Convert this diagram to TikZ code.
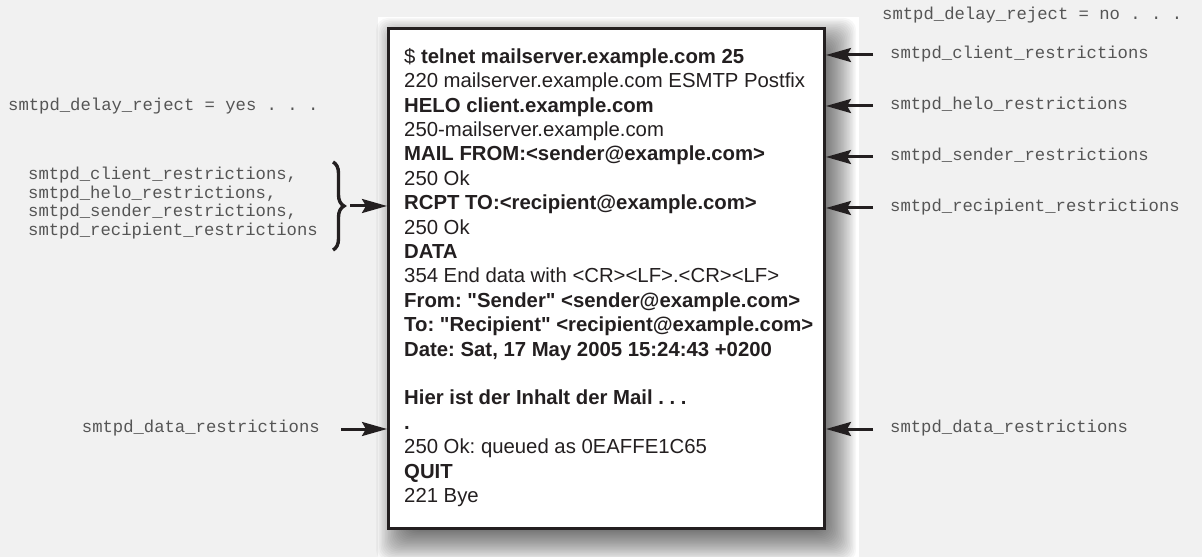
\documentclass[tikz,border=0pt]{standalone}
\usepackage{fontspec}
\setmonofont{Liberation Mono}
\newfontfamily\sessionfont{Liberation Sans}
\usetikzlibrary{arrows.meta,decorations.pathreplacing}
\definecolor{ink}{HTML}{231F20}
\definecolor{paper}{HTML}{F1F1F1}
\definecolor{cfg}{HTML}{555555}
\tikzset{
  line/.style={anchor=base west, inner sep=0pt, text=ink,
    font=\sessionfont\frenchspacing\fontsize{20.4}{24.4}\selectfont},
  opt/.style={inner sep=0pt, text height=7bp, text depth=0pt, text=cfg,
    font=\ttfamily\fontsize{17.3}{18.6}\selectfont},
  arr/.style={draw=ink, line width=3bp,
    -{Stealth[length=25bp, width=14bp, inset=4bp]}},
  session/.style={draw=ink, fill=white, line width=3bp, inner sep=0pt,
    minimum width=436bp, minimum height=500bp},
  softshade/.style={fill=black, fill opacity=0.03, rounded corners=12bp}
}
\begin{document}
\begin{tikzpicture}[x=1bp, y=-1bp]
% page and the white column behind the session
\fill[paper] (0,0) rectangle (1202,557);
\useasboundingbox (0,0) rectangle (1202,557);
\fill[white] (378,17) rectangle (859,557);

% soft drop shadow under the session box: stacked translucent layers
\foreach \i in {0,...,27}{
  \pgfmathsetmacro{\d}{-20+\i*1.5}
  \fill[softshade] (396+\d,38+\d) rectangle (836-\d,542-\d);
}

% SMTP session box
\node[session] (box) at (606.5,278.5) {};

\node[line] (l1)  at (404,63.3)  {\$ \textbf{telnet mailserver.example.com 25}};
\node[line] (l2)  at (404,87.7)  {220 mailserver.example.com ESMTP Postfix};
\node[line] (l3)  at (404,112.1) {\textbf{HELO client.example.com}};
\node[line] (l4)  at (404,136.5) {250-mailserver.example.com};
\node[line] (l5)  at (404,160.9) {\textbf{MAIL FROM:<sender@example.com>}};
\node[line] (l6)  at (404,185.3) {250 Ok};
\node[line] (l7)  at (404,209.7) {\textbf{RCPT TO:<recipient@example.com>}};
\node[line] (l8)  at (404,234.1) {250 Ok};
\node[line] (l9)  at (404,258.5) {\textbf{DATA}};
\node[line] (l10) at (404,282.9) {354 End data with <CR><LF>.<CR><LF>};
\node[line] (l11) at (404,307.3) {\textbf{From: "Sender" <sender@example.com>}};
\node[line] (l12) at (404,331.7) {\textbf{To: "Recipient" <recipient@example.com>}};
\node[line] (l13) at (404,356.1) {\textbf{Date: Sat, 17 May 2005 15:24:43 +0200}};
\node[line] (l15) at (404,404.9) {\textbf{Hier ist der Inhalt der Mail . . .}};
\node[line] (l16) at (404,429.3) {\textbf{.}};
\node[line] (l17) at (404,453.7) {250 Ok: queued as 0EAFFE1C65};
\node[line] (l18) at (404,478.1) {\textbf{QUIT}};
\node[line] (l19) at (404,502.5) {221 Bye};

% right side: restrictions checked immediately
\node[opt, anchor=west] (rno)  at (882,16)  {smtpd\_delay\_reject = no . . .};
\node[opt, anchor=west] (rcl)  at (890,55)  {smtpd\_client\_restrictions};
\node[opt, anchor=west] (rhe)  at (890,106) {smtpd\_helo\_restrictions};
\node[opt, anchor=west] (rse)  at (890,157) {smtpd\_sender\_restrictions};
\node[opt, anchor=west] (rre)  at (890,208) {smtpd\_recipient\_restrictions};
\node[opt, anchor=west] (rda)  at (890,429) {smtpd\_data\_restrictions};
\foreach \n in {rcl,rhe,rse,rre,rda}
  \draw[arr] ([xshift=-17bp]\n.west) -- (\n.west -| box.east);

% left side: restrictions delayed until RCPT TO
\node[opt, anchor=west] (lyes) at (8,107) {smtpd\_delay\_reject = yes . . .};
\node[opt, anchor=west, align=left, text height=, text depth=] (lgrp) at (28,203)
  {smtpd\_client\_restrictions,\\smtpd\_helo\_restrictions,\\
   smtpd\_sender\_restrictions,\\smtpd\_recipient\_restrictions};
\coordinate (btop) at (333,162);
\coordinate (bbot) at (333,250);
\draw[ink, line width=3.4bp, decorate,
  decoration={brace, amplitude=11bp, aspect=0.5}] (btop) -- (bbot);
\coordinate (btip) at (350,206);
\draw[arr] (btip) -- (btip -| box.west);

\node[opt, anchor=east] (lda) at (320,429) {smtpd\_data\_restrictions};
\draw[arr] ([xshift=21bp]lda.east) -- (lda.east -| box.west);
\end{tikzpicture}
\end{document}
